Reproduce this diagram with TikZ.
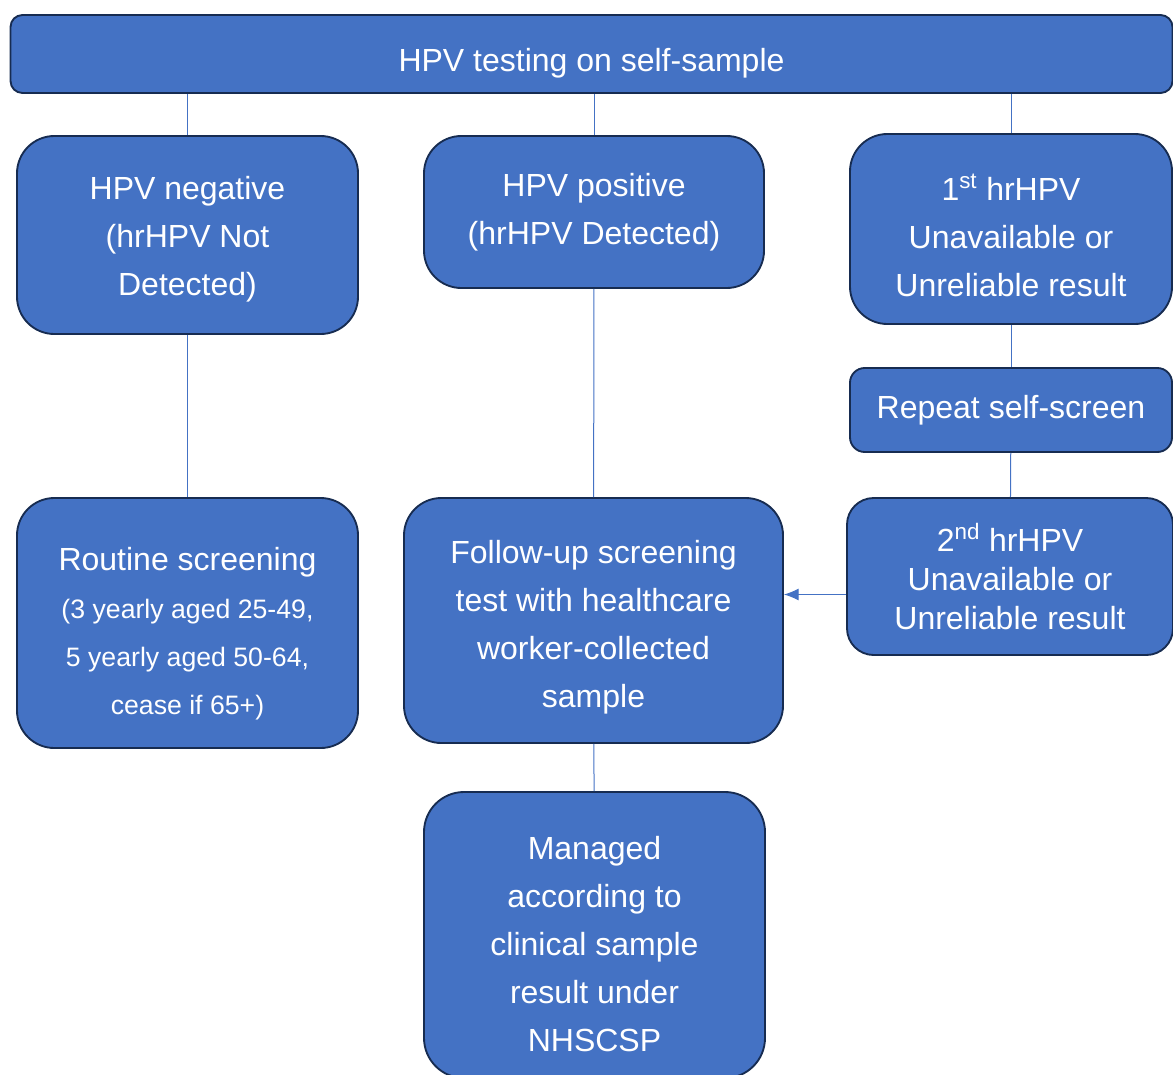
\documentclass[tikz,border=0pt]{standalone}
\usepackage{fontspec}
\setmainfont{Liberation Sans}
\usetikzlibrary{arrows,arrows.meta,positioning}
\definecolor{boxblue}{HTML}{4472C4}
\definecolor{boxedge}{HTML}{172C51}
\newcommand{\subtxt}{\fontsize{20}{36}\selectfont}

\begin{document}
\begin{tikzpicture}[x=0.75pt, y=-0.75pt,
	box/.style={draw=boxedge, line width=1.4pt, fill=boxblue, text=white,
		rounded corners=28pt, align=center, inner sep=0pt,
		font=\fontsize{24}{36}\selectfont},
	link/.style={draw=boxblue, line width=0.75pt},
	>={Latex[length=11pt,width=9pt]}]
	\useasboundingbox (0,0) rectangle (1173,1074);

	\node[box, rounded corners=9pt, minimum width=871.5pt, minimum height=58.5pt,
		text height=31pt, text depth=5pt] (top) at (591.5,54) {HPV testing on self-sample};

	\node[box, minimum width=255.75pt, minimum height=148.5pt, text height=90.75pt, text depth=0pt] (neg) at (187.5,235) {HPV negative\\(hrHPV Not\\Detected)};
	\node[box, minimum width=255pt, minimum height=114pt] (pos) at (594,212) {HPV positive\\(hrHPV Detected)};
	\node[box, minimum width=241.5pt, minimum height=142.5pt, text height=101.25pt, text depth=0pt] (first) at (1011,229) {1\textsuperscript{st} hrHPV\\Unavailable or\\Unreliable result};
	\node[box, rounded corners=11pt, minimum width=241.5pt, minimum height=63pt] (rescreen) at (1011,410) {Repeat self-screen};
	\node[box, rounded corners=20pt, minimum width=244.5pt, minimum height=117.75pt,
		font=\fontsize{24}{29}\selectfont] (second) at (1010,576.5) {2\textsuperscript{nd} hrHPV\\Unavailable or\\Unreliable result};

	\node[box, minimum width=255.75pt, minimum height=187.5pt, text height=137pt, text depth=0pt] (routine) at (187.5,623) {Routine screening\\\subtxt (3 yearly aged 25-49,\\\subtxt 5 yearly aged 50-64,\\\subtxt cease if 65+)};
	\node[box, minimum width=284.25pt, minimum height=183.75pt, text height=130.5pt, text depth=0pt] (follow) at (593.5,620.5) {Follow-up screening\\test with healthcare\\worker-collected\\sample};
	\node[box, rounded corners=30pt, minimum width=255.75pt, minimum height=214.5pt, text height=175pt, text depth=0pt] (managed) at (594.5,935) {Managed\\according to\\clinical sample\\result under\\NHSCSP};

	% branches from the top bar
	\draw[link] (neg.north |- top.south) -- (neg.north);
	\draw[link] (pos.north |- top.south) -- (pos.north);
	\draw[link] (first.north |- top.south) -- (first.north);

	\draw[link] (neg) -- (routine);
	\draw[link] (pos) -- (follow);
	\draw[link] (follow) -- (managed);
	\draw[link] (first) -- (rescreen);
	\draw[link] (rescreen) -- (second);
	\draw[link,->] ([yshift=-13.5pt]second.west) -- ([yshift=-13.5pt]second.west -| follow.east);
\end{tikzpicture}
\end{document}
